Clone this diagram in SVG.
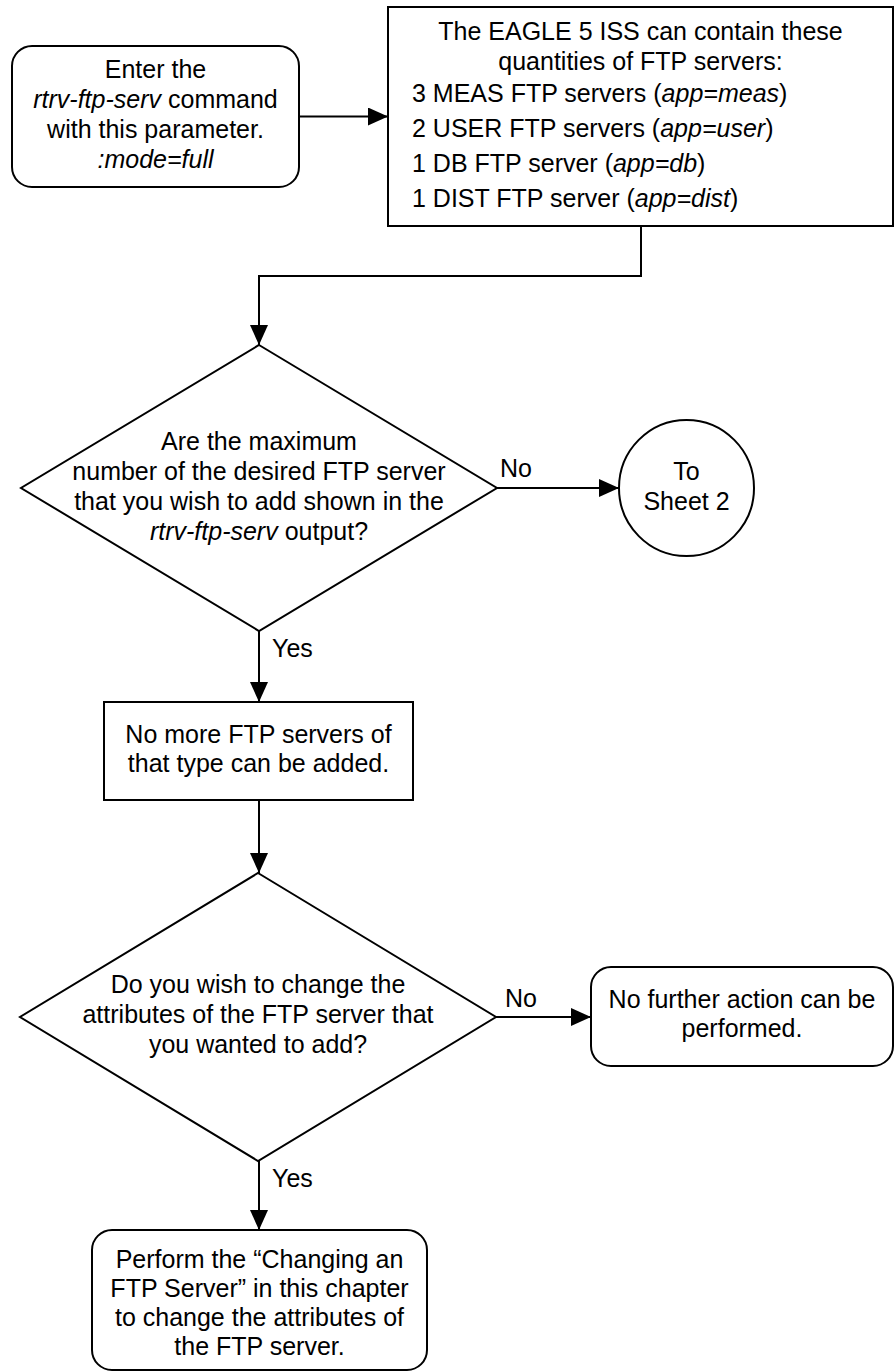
<svg xmlns="http://www.w3.org/2000/svg" width="894" height="1372" viewBox="0 0 894 1372">
<style>
text{font-family:"Liberation Sans",Arial,sans-serif;font-size:25px;fill:#000}
.c{text-anchor:middle}
.i{font-style:italic}
.s{fill:#fff;stroke:#000;stroke-width:2}
.e{fill:none;stroke:#000;stroke-width:2}
</style>
<defs>
<marker id="ah" markerUnits="userSpaceOnUse" markerWidth="20" markerHeight="18" refX="20" refY="9" orient="auto">
<path d="M0,0 L20,9 L0,18 z" fill="#000"/>
</marker>
</defs>
<rect width="894" height="1372" fill="#fff"/>
<g id="connectors">
<line class="e" x1="299" y1="116.5" x2="388" y2="116.5" marker-end="url(#ah)"/>
<polyline class="e" points="641,226 641,276 259,276 259,345" marker-end="url(#ah)"/>
<line class="e" x1="497" y1="488" x2="619" y2="488" marker-end="url(#ah)"/>
<line class="e" x1="259" y1="631" x2="259" y2="702" marker-end="url(#ah)"/>
<line class="e" x1="259" y1="800" x2="259" y2="873" marker-end="url(#ah)"/>
<line class="e" x1="496" y1="1017" x2="591" y2="1017" marker-end="url(#ah)"/>
<line class="e" x1="259" y1="1161" x2="259" y2="1230" marker-end="url(#ah)"/>
<text x="500" y="477">No</text>
<text x="272" y="657">Yes</text>
<text x="505" y="1007">No</text>
<text x="272" y="1187">Yes</text>
</g>
<g id="start">
<rect class="s" x="12" y="46" width="287" height="141" rx="20"/>
<text class="c" x="155.5" y="78">Enter the</text>
<text class="c" x="155.5" y="108"><tspan class="i">rtrv-ftp-serv</tspan> command</text>
<text class="c" x="155.5" y="138">with this parameter.</text>
<text class="c i" x="155.5" y="168">:mode=full</text>
</g>
<g id="quantities">
<rect class="s" x="388" y="7" width="505" height="219"/>
<text class="c" x="640.5" y="40">The EAGLE 5 ISS can contain these</text>
<text class="c" x="640.5" y="70">quantities of FTP servers:</text>
<text x="412" y="102">3 MEAS FTP servers (<tspan class="i">app=meas</tspan>)</text>
<text x="412" y="137">2 USER FTP servers (<tspan class="i">app=user</tspan>)</text>
<text x="412" y="172">1 DB FTP server (<tspan class="i">app=db</tspan>)</text>
<text x="412" y="207">1 DIST FTP server (<tspan class="i">app=dist</tspan>)</text>
</g>
<g id="decision1">
<polygon class="s" points="259,345 497,488 259,631 21,488"/>
<text class="c" x="259" y="450">Are the maximum</text>
<text class="c" x="259" y="480">number of the desired FTP server</text>
<text class="c" x="259" y="510">that you wish to add shown in the</text>
<text class="c" x="259" y="540"><tspan class="i">rtrv-ftp-serv</tspan> output?</text>
</g>
<g id="sheet2">
<ellipse class="s" cx="686.5" cy="488" rx="67.5" ry="68"/>
<text class="c" x="686.5" y="480">To</text>
<text class="c" x="686.5" y="510">Sheet 2</text>
</g>
<g id="nomore">
<rect class="s" x="104" y="702" width="309" height="98"/>
<text class="c" x="258.5" y="743">No more FTP servers of</text>
<text class="c" x="258.5" y="772">that type can be added.</text>
</g>
<g id="decision2">
<polygon class="s" points="258,873 496,1017 258,1161 20,1017"/>
<text class="c" x="258" y="993">Do you wish to change the</text>
<text class="c" x="258" y="1023">attributes of the FTP server that</text>
<text class="c" x="258" y="1053">you wanted to add?</text>
</g>
<g id="nofurther">
<rect class="s" x="591" y="967" width="302" height="99" rx="20"/>
<text class="c" x="742" y="1008">No further action can be</text>
<text class="c" x="742" y="1037">performed.</text>
</g>
<g id="perform">
<rect class="s" x="92" y="1230" width="335" height="140" rx="20"/>
<text class="c" x="259.5" y="1268">Perform the “Changing an</text>
<text class="c" x="259.5" y="1297">FTP Server” in this chapter</text>
<text class="c" x="259.5" y="1326">to change the attributes of</text>
<text class="c" x="259.5" y="1355">the FTP server.</text>
</g>
</svg>
